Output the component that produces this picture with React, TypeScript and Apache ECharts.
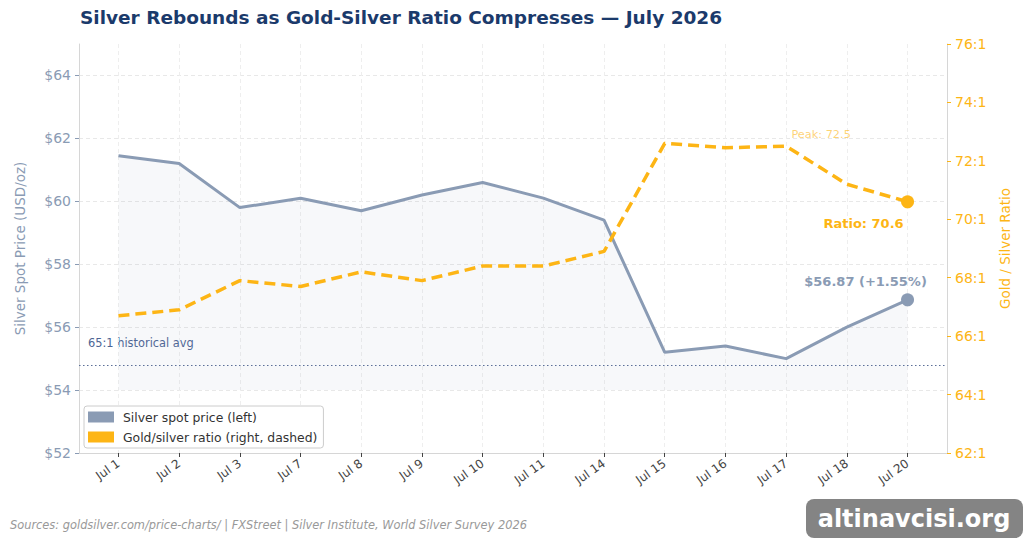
import React, { useEffect, useRef } from "react";
import * as echarts from "echarts";

// Trading days shown on the x axis
const days = ["Jul 1", "Jul 2", "Jul 3", "Jul 7", "Jul 8", "Jul 9", "Jul 10", "Jul 11", "Jul 14", "Jul 15", "Jul 16", "Jul 17", "Jul 18", "Jul 20"];
// Silver spot price, USD/oz
const silverPrice = [61.45, 61.2, 59.8, 60.1, 59.7, 60.2, 60.6, 60.1, 59.4, 55.2, 55.4, 55.0, 56.0, 56.87];
// Gold/silver ratio
const goldSilverRatio = [66.7, 66.9, 67.9, 67.7, 68.2, 67.9, 68.4, 68.4, 68.9, 72.6, 72.45, 72.5, 71.2, 70.6];
// Axis ticks
const priceTicks = [52, 54, 56, 58, 60, 62, 64];
const ratioTicks = [62, 64, 66, 68, 70, 72, 74, 76];
const historicalAvgRatio = 65;
const silverChangePct = 1.55;
const peakDayIndex = 11;

const SILVER = "#8a9bb4";
const GOLD = "#fdb515";
const FONT = "DejaVu Sans";

export default function App() {
  const ref = useRef<HTMLDivElement>(null);

  useEffect(() => {
    if (!ref.current) return;
    const chart = echarts.init(ref.current, null, { renderer: "svg" });
    const last = days.length - 1;
    const idx = days.map((_, i) => i);

    const option: any = {
      animation: false,
      backgroundColor: "#ffffff",
      textStyle: { fontFamily: FONT },
      title: {
        text: "Silver Rebounds as Gold-Silver Ratio Compresses — July 2026",
        left: 75,
        top: 3,
        textStyle: { fontFamily: FONT, fontSize: 18.5, fontWeight: "bold", color: "#1b3a6b" },
      },
      grid: { left: 79, right: 77, top: 44, bottom: 90 },
      legend: {
        orient: "vertical",
        left: 84,
        top: 406,
        padding: [5, 6, 5, 4],
        itemGap: 8,
        itemWidth: 26,
        itemHeight: 11,
        icon: "rect",
        backgroundColor: "#ffffff",
        borderColor: "#cccccc",
        borderWidth: 1,
        borderRadius: 3,
        textStyle: { fontFamily: FONT, fontSize: 12.4, color: "#333333", padding: [0, 0, 0, 4] },
        data: [
          { name: "Silver spot price (left)", itemStyle: { color: SILVER, borderWidth: 0 } },
          { name: "Gold/silver ratio (right, dashed)", itemStyle: { color: GOLD, borderWidth: 0 } },
        ],
      },
      xAxis: {
        type: "value",
        min: -0.65,
        max: last + 0.65,
        axisLine: { show: true, onZero: false, lineStyle: { color: "#d6d6d6" } },
        axisTick: { show: true, customValues: idx, length: 4, lineStyle: { color: "#444444" } },
        axisLabel: {
          customValues: idx,
          formatter: (v: number) => days[Math.round(v)],
          rotate: 35,
          margin: 9,
          fontFamily: FONT,
          fontSize: 12,
          color: "#444444",
        },
        splitLine: { show: true, lineStyle: { color: "#eeeeee", type: [4, 3] } },
      },
      yAxis: [
        {
          type: "value",
          min: 52,
          max: 65,
          name: "Silver Spot Price (USD/oz)",
          nameLocation: "middle",
          nameRotate: 90,
          nameGap: 52,
          nameTextStyle: { fontFamily: FONT, fontSize: 13.5, color: SILVER },
          axisLine: { show: true, onZero: false, lineStyle: { color: "#d6d6d6" } },
          axisTick: { show: true, customValues: priceTicks, length: 4, lineStyle: { color: SILVER } },
          axisLabel: {
            customValues: priceTicks,
            formatter: (v: number) => "$" + v,
            fontFamily: FONT,
            fontSize: 14,
            color: SILVER,
            margin: 8,
          },
          splitLine: { show: true, lineStyle: { color: "#e8e8e8", type: [4, 3] } },
        },
        {
          type: "value",
          min: 62,
          max: 76,
          interval: 2,
          position: "right",
          name: "Gold / Silver Ratio",
          nameLocation: "middle",
          nameRotate: 90,
          nameGap: 51,
          nameTextStyle: { fontFamily: FONT, fontSize: 13.5, color: GOLD },
          axisLine: { show: true, onZero: false, lineStyle: { color: "#d6d6d6" } },
          axisTick: { show: true, customValues: ratioTicks, length: 4, lineStyle: { color: GOLD } },
          axisLabel: {
            customValues: ratioTicks,
            formatter: (v: number) => v + ":1",
            fontFamily: FONT,
            fontSize: 14,
            color: GOLD,
            margin: 8,
          },
          splitLine: { show: false },
        },
      ],
      series: [
        {
          name: "Silver spot price (left)",
          type: "line",
          yAxisIndex: 0,
          data: silverPrice.map((v, i) => [i, v]),
          color: SILVER,
          symbol: "circle",
          showSymbol: true,
          symbolSize: (_v: any, p: any) => (p.dataIndex === last ? 13 : 0),
          itemStyle: { color: SILVER },
          lineStyle: { color: SILVER, width: 3 },
          areaStyle: { origin: 54, color: "rgba(138,155,180,0.10)" },
          label: {
            show: true,
            position: "inside",
            formatter: (p: any) =>
              p.dataIndex === last ? `$${silverPrice[last].toFixed(2)} (+${silverChangePct.toFixed(2)}%)` : "",
            offset: [-42, -18],
            fontFamily: FONT,
            fontSize: 13,
            fontWeight: "bold",
            color: SILVER,
          },
          z: 2,
        },
        {
          name: "Gold/silver ratio (right, dashed)",
          type: "line",
          yAxisIndex: 1,
          data: goldSilverRatio.map((v, i) => [i, v]),
          color: GOLD,
          symbol: "circle",
          showSymbol: true,
          symbolSize: (_v: any, p: any) => (p.dataIndex === last ? 13 : 0),
          itemStyle: { color: GOLD },
          lineStyle: { color: GOLD, width: 3.5, type: [11, 6] },
          label: {
            show: true,
            position: "inside",
            formatter: (p: any) => (p.dataIndex === last ? `Ratio: ${goldSilverRatio[last]}` : ""),
            offset: [-44, 22],
            fontFamily: FONT,
            fontSize: 13,
            fontWeight: "bold",
            color: GOLD,
          },
          markLine: {
            silent: true,
            symbol: "none",
            lineStyle: { color: "#5b6f98", type: [1.5, 2.5], width: 1.2 },
            label: { show: false },
            data: [{ yAxis: historicalAvgRatio }],
          },
          markPoint: {
            silent: true,
            data: [
              {
                coord: [peakDayIndex, goldSilverRatio[peakDayIndex]],
                symbol: "circle",
                symbolSize: 1,
                itemStyle: { color: "rgba(0,0,0,0)" },
                label: {
                  show: true,
                  position: "inside",
                  formatter: `Peak: ${goldSilverRatio[peakDayIndex]}`,
                  offset: [35, -12],
                  fontFamily: FONT,
                  fontSize: 11.3,
                  color: "rgba(253,181,21,0.6)",
                },
              },
            ],
          },
          z: 3,
        },
      ],
      graphic: [
        {
          type: "text",
          left: 88,
          top: 337,
          style: {
            text: `${historicalAvgRatio}:1 historical avg`,
            fontFamily: FONT,
            fontSize: 11.4,
            fill: "#4d6594",
          },
        },
        {
          type: "text",
          left: 10,
          top: 519,
          style: {
            text: "Sources: goldsilver.com/price-charts/ | FXStreet | Silver Institute, World Silver Survey 2026",
            fontFamily: FONT,
            fontSize: 11.4,
            fontStyle: "italic",
            fill: "#999999",
          },
        },
        {
          type: "group",
          left: 806,
          top: 499,
          children: [
            {
              type: "rect",
              shape: { x: 0, y: 0, width: 217, height: 39, r: 8 },
              style: { fill: "rgba(110,110,110,0.85)" },
            },
            {
              type: "text",
              x: 108,
              y: 20,
              style: {
                text: "altinavcisi.org",
                fontFamily: FONT,
                fontSize: 24,
                fontWeight: "bold",
                fill: "#ffffff",
                align: "center",
                verticalAlign: "middle",
              },
            },
          ],
        },
      ],
    };

    chart.setOption(option);
    return () => chart.dispose();
  }, []);

  return (
    <div
      ref={ref}
      style={{ position: "absolute", left: 0, top: 0, width: 1024, height: 543 }}
    />
  );
}
